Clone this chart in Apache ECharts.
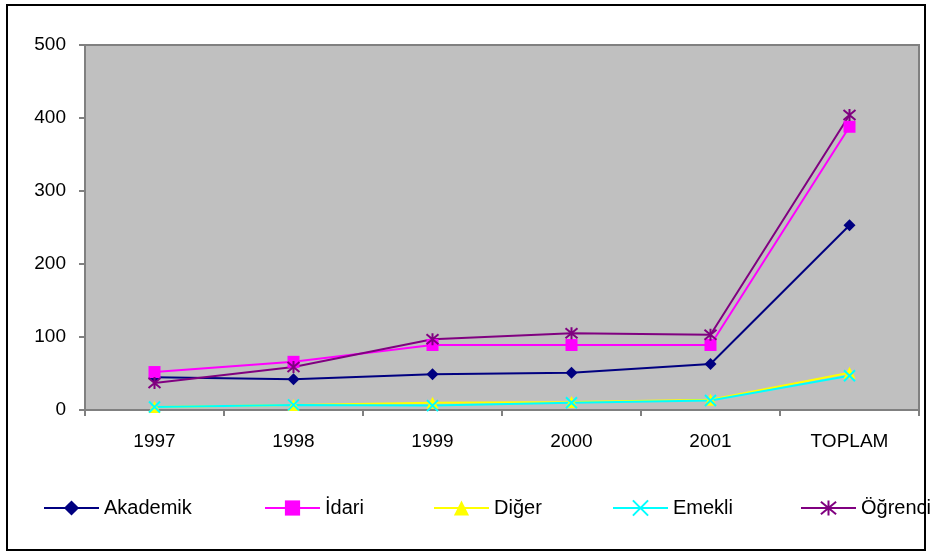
<!DOCTYPE html>
<html>
<head>
<meta charset="utf-8">
<script src="https://cdn.jsdelivr.net/npm/echarts@6/dist/echarts.min.js"></script>
<style>
  html, body { margin: 0; padding: 0; background: #fff; }
  #chart { width: 931px; height: 556px; }
</style>
</head>
<body>
<div id="chart"></div>
<script>
const categories = ['1997', '1998', '1999', '2000', '2001', 'TOPLAM']
const akademik = [45, 42, 49, 51, 63, 253]
const idari = [52, 66, 89, 89, 89, 388]
const diger = [4, 7, 10, 11, 14, 51]
const emekli = [4, 7, 6, 10, 13, 47]
const ogrenci = [37, 59, 97, 105, 103, 404]
const yTicks = [0, 100, 200, 300, 400, 500]

const font = '"Liberation Sans", Arial, sans-serif'
const xPath = 'path://M0,0L10,10M10,0L0,10'
const starPath = 'path://M0,0L10,10M10,0L0,10M5,-1L5,11'

const seriesDefs = [
  { name: 'Akademik', data: akademik, color: '#000080', symbol: 'diamond', size: 12, legendLeft: 43 },
  { name: 'İdari', data: idari, color: '#FF00FF', symbol: 'rect', size: 12, legendLeft: 264 },
  { name: 'Diğer', data: diger, color: '#FFFF00', symbol: 'triangle', size: 12, legendLeft: 433 },
  { name: 'Emekli', data: emekli, color: '#00FFFF', symbol: xPath, size: 11, stroke: true, legendLeft: 612 },
  { name: 'Öğrenci', data: ogrenci, color: '#800080', symbol: starPath, size: 12, stroke: true, legendLeft: 800 }
]

const chart = echarts.init(document.getElementById('chart'))

const option = {
  backgroundColor: '#ffffff',
  animation: false,
  textStyle: { fontFamily: font },
  graphic: [
    {
      type: 'rect',
      shape: { x: 7, y: 5, width: 918, height: 545 },
      style: { fill: 'none', stroke: '#000', lineWidth: 2 },
      silent: true
    }
  ],
  legend: seriesDefs.map(s => ({
    data: [s.name],
    left: s.legendLeft,
    top: 498,
    padding: 0,
    itemWidth: 55,
    itemHeight: 19,
    textStyle: { fontFamily: font, fontSize: 20, color: '#000' }
  })),
  grid: {
    left: 85,
    right: 12,
    top: 45,
    bottom: 146,
    show: true,
    backgroundColor: '#C0C0C0',
    borderColor: '#808080',
    borderWidth: 2
  },
  xAxis: {
    type: 'category',
    data: categories,
    boundaryGap: true,
    axisLine: { lineStyle: { color: '#808080', width: 2 } },
    axisTick: { show: true, length: 6, lineStyle: { color: '#808080', width: 2 } },
    axisLabel: { fontFamily: font, fontSize: 19, color: '#000', margin: 22 }
  },
  yAxis: {
    type: 'value',
    min: 0,
    max: 500,
    interval: 100,
    axisLine: { show: true, lineStyle: { color: '#808080', width: 2 } },
    axisTick: { show: true, length: 6, lineStyle: { color: '#808080', width: 2 } },
    splitLine: { show: false },
    axisLabel: {
      fontFamily: font,
      fontSize: 19,
      color: '#000',
      margin: 19,
      formatter: v => (yTicks.includes(v) ? String(v) : '')
    }
  },
  series: seriesDefs.map(s => ({
    name: s.name,
    type: 'line',
    data: s.data,
    symbol: s.symbol,
    symbolSize: s.size,
    showAllSymbol: true,
    lineStyle: { color: s.color, width: 2 },
    itemStyle: s.stroke
      ? { color: s.color, borderColor: s.color, borderWidth: 2 }
      : { color: s.color, borderWidth: 0 },
    emphasis: { disabled: true }
  }))
}

chart.setOption(option)
</script>
</body>
</html>
